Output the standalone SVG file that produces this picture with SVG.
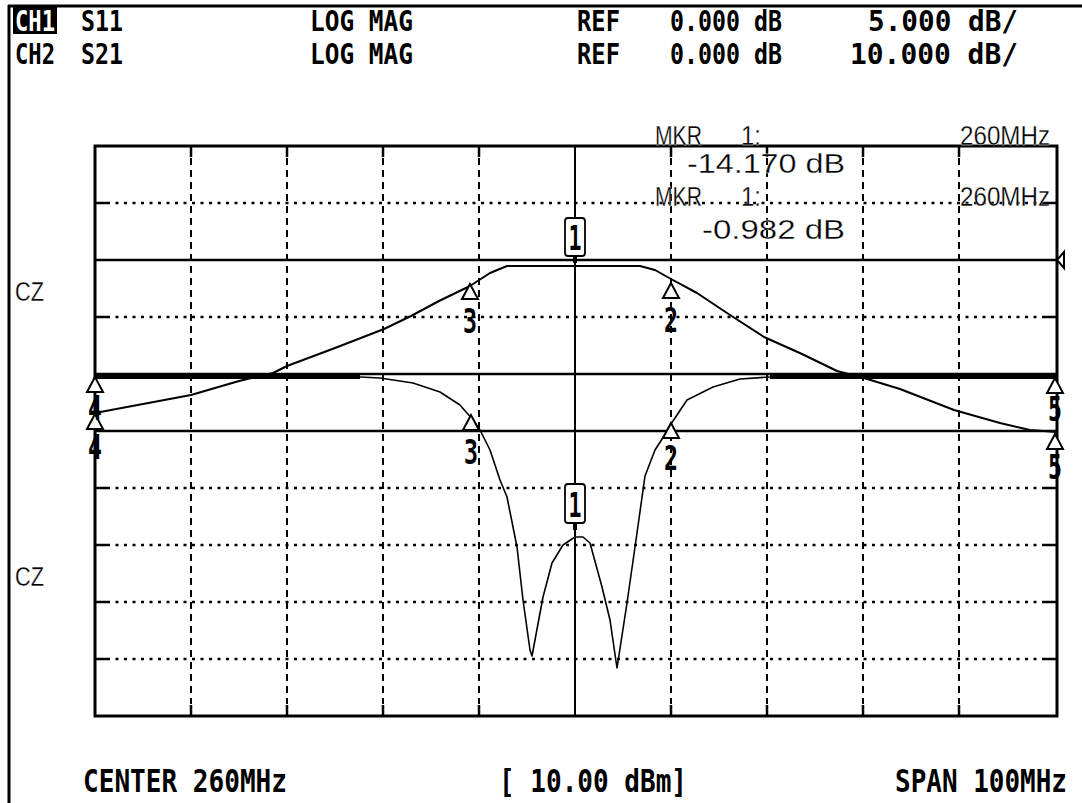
<svg xmlns="http://www.w3.org/2000/svg" xmlns:xlink="http://www.w3.org/1999/xlink" width="1082" height="803" viewBox="0 0 1082 803">
<defs>
<style>
.hdr{font-family:"DejaVu Sans Mono","Liberation Mono",monospace;font-weight:bold;font-size:28.5px;fill:#000}
.ftr{font-family:"DejaVu Sans Mono","Liberation Mono",monospace;font-weight:bold;font-size:28px;fill:#000}
.mk{font-family:"Liberation Sans","DejaVu Sans",sans-serif;font-size:27px;fill:#000;stroke:#fff;stroke-width:0.3}
.dig{font-family:"DejaVu Sans Mono","Liberation Mono",monospace;font-weight:bold;font-size:34px;fill:#000;text-anchor:middle}
.frame{fill:none;stroke:#000;stroke-width:3}
.solid{stroke:#000;stroke-width:2.5;fill:none}
.dot{stroke:#000;stroke-width:2.5;stroke-dasharray:3 5.5;fill:none}
.dash{stroke:#000;stroke-width:2;stroke-dasharray:7 5;fill:none}
.tick{stroke:#000;stroke-width:2.5}
.tr21{fill:none;stroke:#000;stroke-width:2;stroke-linejoin:round}
.tr11{fill:none;stroke:#000;stroke-width:1.6;stroke-linejoin:round}
.thick{fill:none;stroke:#000;stroke-width:4}
.tri{fill:#fff;stroke:#000;stroke-width:2}
.box{fill:#fff;stroke:#000;stroke-width:1.8}
</style>
<path id="tri" d="M0,0 L-8,15 L8,15 Z"/>
</defs>
<rect width="1082" height="803" fill="#fff"/>
<g id="outer">
<line x1="9" y1="5" x2="9" y2="803" stroke="#000" stroke-width="3"/>
<line x1="8" y1="6" x2="1082" y2="6" stroke="#000" stroke-width="3"/>
</g>
<g id="header">
<rect x="13" y="5" width="44" height="29" fill="#000"/>
<text class="hdr" x="15" y="31" textLength="40" lengthAdjust="spacingAndGlyphs" style="fill:#fff">CH1</text>
<text class="hdr" x="81" y="31" textLength="42" lengthAdjust="spacingAndGlyphs">S11</text>
<text class="hdr" x="310" y="31" textLength="103" lengthAdjust="spacingAndGlyphs">LOG MAG</text>
<text class="hdr" x="577" y="31" textLength="43" lengthAdjust="spacingAndGlyphs">REF</text>
<text class="hdr" x="670" y="31" textLength="112" lengthAdjust="spacingAndGlyphs">0.000 dB</text>
<text class="hdr" x="868" y="31" textLength="150" lengthAdjust="spacingAndGlyphs">5.000 dB/</text>
<text class="hdr" x="15" y="64" textLength="40" lengthAdjust="spacingAndGlyphs">CH2</text>
<text class="hdr" x="81" y="64" textLength="42" lengthAdjust="spacingAndGlyphs">S21</text>
<text class="hdr" x="310" y="64" textLength="103" lengthAdjust="spacingAndGlyphs">LOG MAG</text>
<text class="hdr" x="577" y="64" textLength="43" lengthAdjust="spacingAndGlyphs">REF</text>
<text class="hdr" x="670" y="64" textLength="112" lengthAdjust="spacingAndGlyphs">0.000 dB</text>
<text class="hdr" x="850" y="64" textLength="168" lengthAdjust="spacingAndGlyphs">10.000 dB/</text>
</g>
<g id="grid">
<g class="dot">
<line x1="107" y1="203" x2="1044" y2="203"/>
<line x1="107" y1="317" x2="1044" y2="317"/>
<line x1="107" y1="488" x2="1044" y2="488"/>
<line x1="107" y1="545" x2="1044" y2="545"/>
<line x1="107" y1="602" x2="1044" y2="602"/>
<line x1="107" y1="659" x2="1044" y2="659"/>
</g>
<g class="tick">
<line x1="95" y1="203" x2="107" y2="203"/><line x1="1044" y1="203" x2="1057" y2="203"/>
<line x1="95" y1="317" x2="107" y2="317"/><line x1="1044" y1="317" x2="1057" y2="317"/>
<line x1="95" y1="488" x2="107" y2="488"/><line x1="1044" y1="488" x2="1057" y2="488"/>
<line x1="95" y1="545" x2="107" y2="545"/><line x1="1044" y1="545" x2="1057" y2="545"/>
<line x1="95" y1="602" x2="107" y2="602"/><line x1="1044" y1="602" x2="1057" y2="602"/>
<line x1="95" y1="659" x2="107" y2="659"/><line x1="1044" y1="659" x2="1057" y2="659"/>
</g>
<g class="dash">
<line x1="191" y1="158" x2="191" y2="704"/>
<line x1="287" y1="158" x2="287" y2="704"/>
<line x1="383" y1="158" x2="383" y2="704"/>
<line x1="479" y1="158" x2="479" y2="704"/>
<line x1="671" y1="158" x2="671" y2="704"/>
<line x1="767" y1="158" x2="767" y2="704"/>
<line x1="863" y1="158" x2="863" y2="704"/>
<line x1="959" y1="158" x2="959" y2="704"/>
</g>
<g class="tick">
<line x1="191" y1="146" x2="191" y2="157"/><line x1="191" y1="705" x2="191" y2="716"/>
<line x1="287" y1="146" x2="287" y2="157"/><line x1="287" y1="705" x2="287" y2="716"/>
<line x1="383" y1="146" x2="383" y2="157"/><line x1="383" y1="705" x2="383" y2="716"/>
<line x1="479" y1="146" x2="479" y2="157"/><line x1="479" y1="705" x2="479" y2="716"/>
<line x1="671" y1="146" x2="671" y2="157"/><line x1="671" y1="705" x2="671" y2="716"/>
<line x1="767" y1="146" x2="767" y2="157"/><line x1="767" y1="705" x2="767" y2="716"/>
<line x1="863" y1="146" x2="863" y2="157"/><line x1="863" y1="705" x2="863" y2="716"/>
<line x1="959" y1="146" x2="959" y2="157"/><line x1="959" y1="705" x2="959" y2="716"/>
</g>
<g class="solid">
<line x1="95" y1="260" x2="1057" y2="260"/>
<line x1="95" y1="374" x2="1057" y2="374"/>
<line x1="95" y1="431" x2="1057" y2="431"/>
<line x1="575" y1="146" x2="575" y2="716" stroke-width="2"/>
</g>
<rect class="frame" x="95" y="146" width="962" height="570"/>
<path d="M1064,252 L1057,260 L1064,268 Z" fill="#fff" stroke="#000" stroke-width="2"/>
</g>
<g id="traces">
<polyline class="tr21" points="95,413 143,404 191,395 239,381 273,373 287,366 335,348 384,329 411,316 439,301 470,286 490,273 507,266 640,266 655,270 671,279 697,293 727,313 764,337 802,354 837,371 864,378 900,389 954,410 1000,423 1030,430 1057,432"/>
<polyline class="thick" points="95,377 360,377"/>
<polyline class="thick" points="770,377 1057,377"/>
<polyline class="tr11" points="360,377 380,378 413,383 440,392 460,405 473,420 480,430 490,450 500,480 507,497 517,547 523,600 530,650 532,656 543,597 552,563 563,545 575,537 583,537 590,543 602,587 610,620 617,668 627,603 637,533 645,476 655,450 664,436 671,424 687,400 713,387 740,379 770,377"/>
</g>
<g id="markers-s21">
<g id="m21-1"><rect class="box" x="565" y="218" width="20" height="38" rx="3"/><text class="dig" x="575" y="250" textLength="13" lengthAdjust="spacingAndGlyphs">1</text><line x1="575" y1="256" x2="575" y2="263" stroke="#000" stroke-width="4"/></g>
<g id="m21-2"><use xlink:href="#tri" class="tri" x="671" y="283"/><text class="dig" x="671" y="332" textLength="14" lengthAdjust="spacingAndGlyphs">2</text></g>
<g id="m21-3"><use xlink:href="#tri" class="tri" x="470" y="284"/><text class="dig" x="470" y="333" textLength="14" lengthAdjust="spacingAndGlyphs">3</text></g>
<g id="m21-4"><use xlink:href="#tri" class="tri" x="95" y="414"/><text class="dig" x="95" y="459" textLength="14" lengthAdjust="spacingAndGlyphs">4</text></g>
<g id="m21-5"><use xlink:href="#tri" class="tri" x="1055" y="434"/><text class="dig" x="1055" y="479" textLength="14" lengthAdjust="spacingAndGlyphs">5</text></g>
</g>
<g id="markers-s11">
<g id="m11-1"><rect class="box" x="565" y="484" width="20" height="39" rx="3"/><text class="dig" x="575" y="517" textLength="13" lengthAdjust="spacingAndGlyphs">1</text><line x1="575" y1="523" x2="575" y2="530" stroke="#000" stroke-width="4"/></g>
<g id="m11-2"><use xlink:href="#tri" class="tri" x="671" y="423"/><text class="dig" x="671" y="470" textLength="14" lengthAdjust="spacingAndGlyphs">2</text></g>
<g id="m11-3"><use xlink:href="#tri" class="tri" x="471" y="415"/><text class="dig" x="471" y="464" textLength="14" lengthAdjust="spacingAndGlyphs">3</text></g>
<g id="m11-4"><use xlink:href="#tri" class="tri" x="95" y="377"/><text class="dig" x="95" y="420" textLength="14" lengthAdjust="spacingAndGlyphs">4</text></g>
<g id="m11-5"><use xlink:href="#tri" class="tri" x="1055" y="378"/><text class="dig" x="1055" y="421" textLength="14" lengthAdjust="spacingAndGlyphs">5</text></g>
</g>
<g id="readout">
<text class="mk" x="655" y="145" textLength="47" lengthAdjust="spacingAndGlyphs">MKR</text>
<text class="mk" x="741" y="145" textLength="20" lengthAdjust="spacingAndGlyphs">1:</text>
<text class="mk" x="960" y="145" textLength="90" lengthAdjust="spacingAndGlyphs">260MHz</text>
<text class="mk" x="687" y="173" textLength="158" lengthAdjust="spacingAndGlyphs">-14.170 dB</text>
<text class="mk" x="655" y="206" textLength="47" lengthAdjust="spacingAndGlyphs">MKR</text>
<text class="mk" x="741" y="206" textLength="20" lengthAdjust="spacingAndGlyphs">1:</text>
<text class="mk" x="960" y="206" textLength="90" lengthAdjust="spacingAndGlyphs">260MHz</text>
<text class="mk" x="702" y="239" textLength="143" lengthAdjust="spacingAndGlyphs">-0.982 dB</text>
<text class="mk" x="15" y="301" textLength="29" lengthAdjust="spacingAndGlyphs">CZ</text>
<text class="mk" x="15" y="586" textLength="29" lengthAdjust="spacingAndGlyphs">CZ</text>
</g>
<g id="footer">
<text class="ftr" transform="translate(83,792) scale(1,1.15)" x="0" y="0" textLength="204" lengthAdjust="spacingAndGlyphs">CENTER 260MHz</text>
<text class="ftr" transform="translate(499,792) scale(1,1.15)" x="0" y="0" textLength="188" lengthAdjust="spacingAndGlyphs">[ 10.00 dBm]</text>
<text class="ftr" transform="translate(895,792) scale(1,1.15)" x="0" y="0" textLength="172" lengthAdjust="spacingAndGlyphs">SPAN 100MHz</text>
</g>
</svg>
